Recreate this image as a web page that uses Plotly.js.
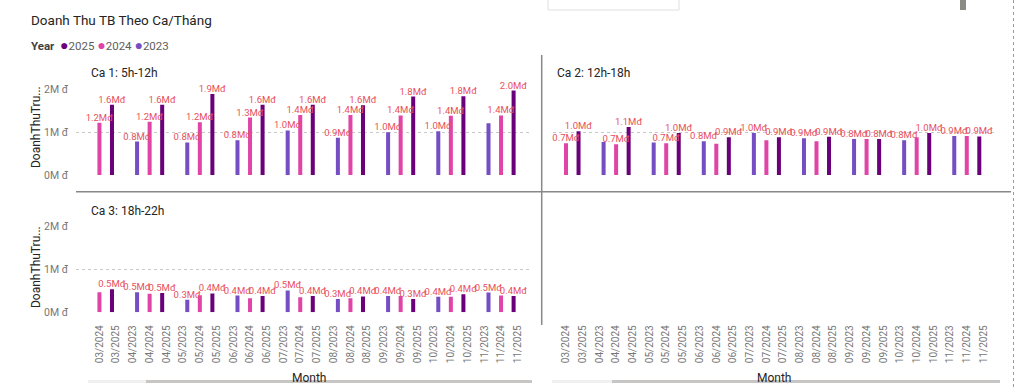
<!DOCTYPE html>
<html>
<head>
<meta charset="utf-8">
<script src="https://cdn.plot.ly/plotly-3.0.1.min.js"></script>
<style>
html,body{margin:0;padding:0;background:#fff;}
#chart{width:1024px;height:387px;}
</style>
</head>
<body>
<div id="chart"></div>
<script>
// ---- Data (values in millions of đồng) ----
const months = ['03/2024','03/2025','04/2023','04/2024','04/2025','05/2023','05/2024','05/2025',
  '06/2023','06/2024','06/2025','07/2023','07/2024','07/2025','08/2023','08/2024','08/2025',
  '09/2023','09/2024','09/2025','10/2023','10/2024','10/2025','11/2023','11/2024','11/2025'];
const legendYears = ['2025','2024','2023'];
const yearColors = ['#6B007B','#E044A7','#744EC2'];

const ca1Title = 'Ca 1: 5h-12h';
const ca1Values = [1.22,1.64,0.78,1.24,1.64,0.76,1.23,1.89,0.81,1.34,1.64,1.04,1.40,1.64,0.87,1.40,1.63,
  1.00,1.39,1.83,1.02,1.38,1.84,1.21,1.39,1.97];
const ca1HiddenLabels = ['11/2023'];

const ca2Title = 'Ca 2: 12h-18h';
const ca2Values = [0.74,1.02,0.77,0.72,1.12,0.76,0.74,0.98,0.79,0.73,0.88,0.98,0.81,0.88,0.86,0.79,0.89,
  0.84,0.84,0.84,0.81,0.88,0.98,0.91,0.91,0.90];
const ca2HiddenLabels = ['04/2023','05/2023','06/2024','07/2024','08/2024','09/2024','10/2024','11/2024'];

const ca3Title = 'Ca 3: 18h-22h';
const ca3Values = [0.47,0.54,0.47,0.43,0.45,0.29,0.40,0.44,0.39,0.33,0.38,0.51,0.35,0.38,0.31,0.33,0.37,
  0.38,0.38,0.31,0.36,0.36,0.42,0.46,0.39,0.38];
const ca3HiddenLabels = ['03/2024','04/2024','05/2024','06/2024','07/2024','08/2024','09/2024','10/2024','11/2024'];

const yTickVals = [0,1,2];
const yTickText = ['0M đ','1M đ','2M đ'];

// ---- Style helpers ----
const W = 1024, H = 387;
const px = x => x / W;
const py = y => 1 - y / H;
const FONT = 'Roboto, "Noto Sans", sans-serif';
const labelColor = '#E8505B';
const slotWidth = 0.25;       // fraction of a category slot per year (clustered look)
const barWidth = 0.24;

function panelTraces(values, hidden, xa, ya) {
  return legendYears.map((yr, k) => {
    const idx = months.map((m, i) => i).filter(i => months[i].slice(3) === yr);
    return {
      type: 'bar',
      name: yr,
      x: idx.map(i => months[i]),
      y: idx.map(i => values[i]),
      width: barWidth,
      offset: (k - 1.5) * slotWidth + (slotWidth - barWidth) / 2,
      text: idx.map(i => hidden.includes(months[i]) ? '' : values[i].toFixed(1) + 'Mđ'),
      textposition: 'outside',
      textangle: 0,
      constraintext: 'none',
      cliponaxis: false,
      textfont: {family: FONT, size: 9.5, color: labelColor},
      marker: {color: yearColors[k]},
      xaxis: xa, yaxis: ya,
      hoverinfo: 'x+y',
      showlegend: false
    };
  });
}

const data = [
  ...panelTraces(ca1Values, ca1HiddenLabels, 'x', 'y'),
  ...panelTraces(ca2Values, ca2HiddenLabels, 'x2', 'y2'),
  ...panelTraces(ca3Values, ca3HiddenLabels, 'x3', 'y3')
];

const topDom = [py(175), py(89.3)];
const botDom = [py(312.3), py(226.5)];
const leftDom = [px(76), px(530)];
const rightDom = [px(553), px(997)];

const baseX = {
  type: 'category', categoryorder: 'array', categoryarray: months,
  showgrid: false, zeroline: false, showline: false, ticks: '',
  tickangle: -90, tickfont: {family: FONT, size: 10, color: '#777777'},
  ticklabelstandoff: 10, fixedrange: true
};
const baseY = {
  range: [0, 2], tickvals: yTickVals, ticktext: yTickText,
  showgrid: true, gridcolor: '#c8c8c8', griddash: 'dot', gridwidth: 1,
  zeroline: false, showline: false, ticks: '',
  tickfont: {family: FONT, size: 10.5, color: '#777777'},
  ticklabelstandoff: 7, fixedrange: true
};

function ann(text, x, y, opts) {
  return Object.assign({
    text: text, xref: 'paper', yref: 'paper', x: px(x), y: py(y),
    xanchor: 'left', yanchor: 'middle', showarrow: false,
    font: {family: FONT, size: 12, color: '#252423'}
  }, opts || {});
}

const legendText = '<span style="color:#404040"><b>Year</b></span> ' + legendYears.map((yr, k) =>
  ' <span style="color:' + yearColors[k] + ';font-size:14px">●</span><span style="color:#605E5C">' + yr + '</span>').join('');

const layout = {
  width: W, height: H,
  margin: {l: 0, r: 0, t: 0, b: 0},
  paper_bgcolor: '#ffffff', plot_bgcolor: 'rgba(0,0,0,0)',
  barmode: 'overlay',
  showlegend: false,
  font: {family: FONT},
  xaxis: Object.assign({}, baseX, {domain: leftDom, range: [-1.4, 25.73], anchor: 'y', showticklabels: false}),
  yaxis: Object.assign({}, baseY, {domain: topDom, anchor: 'x'}),
  xaxis2: Object.assign({}, baseX, {domain: rightDom, range: [-0.78, 25.81], anchor: 'free', position: py(312.3)}),
  yaxis2: Object.assign({}, baseY, {domain: topDom, anchor: 'x2', showticklabels: false}),
  xaxis3: Object.assign({}, baseX, {domain: leftDom, range: [-1.4, 25.73], anchor: 'y3'}),
  yaxis3: Object.assign({}, baseY, {domain: botDom, anchor: 'x3'}),
  annotations: [
    ann('Doanh Thu TB Theo Ca/Tháng', 29, 20, {font: {family: FONT, size: 13.5, color: '#252423'}}),
    ann(legendText, 29, 45, {font: {family: FONT, size: 11.5, color: '#252423'}}),
    ann(ca1Title, 89, 73),
    ann(ca2Title, 555, 73),
    ann(ca3Title, 89, 211),
    ann('DoanhThuTru...', 36, 127, {xanchor: 'center', textangle: -90}),
    ann('DoanhThuTru...', 36, 267, {xanchor: 'center', textangle: -90}),
    ann('Month', 309, 378, {xanchor: 'center'}),
    ann('Month', 774, 378, {xanchor: 'center'})
  ],
  shapes: [
    {type: 'line', xref: 'paper', yref: 'paper', x0: px(76), x1: px(1011), y0: py(191.7), y1: py(191.7), line: {color: '#8a8886', width: 1.5}},
    {type: 'line', xref: 'paper', yref: 'paper', x0: px(541.7), x1: px(541.7), y0: py(55), y1: py(325), line: {color: '#8a8886', width: 1.5}},
    {type: 'line', xref: 'paper', yref: 'paper', x0: px(1013.5), x1: px(1013.5), y0: 0, y1: 1, line: {color: '#9a9a9a', width: 1, dash: 'dot'}},
    {type: 'rect', xref: 'paper', yref: 'paper', x0: px(548), x1: px(679), y0: py(10), y1: py(-2), line: {color: '#e1dfdd', width: 1}, fillcolor: '#ffffff'},
    {type: 'rect', xref: 'paper', yref: 'paper', x0: px(960), x1: px(966), y0: py(10), y1: py(0), line: {width: 0}, fillcolor: '#8c8c86'},
    {type: 'rect', xref: 'paper', yref: 'paper', x0: px(88), x1: px(146), y0: py(383), y1: py(380), line: {width: 0}, fillcolor: '#f0f0f0'},
    {type: 'rect', xref: 'paper', yref: 'paper', x0: px(146), x1: px(532), y0: py(383), y1: py(380), line: {width: 0}, fillcolor: '#c8c6c4'},
    {type: 'rect', xref: 'paper', yref: 'paper', x0: px(552), x1: px(612), y0: py(383), y1: py(380), line: {width: 0}, fillcolor: '#f0f0f0'},
    {type: 'rect', xref: 'paper', yref: 'paper', x0: px(612), x1: px(1000), y0: py(383), y1: py(380), line: {width: 0}, fillcolor: '#c8c6c4'}
  ]
};

Plotly.newPlot('chart', data, layout, {displayModeBar: false, staticPlot: true});
</script>
</body>
</html>
